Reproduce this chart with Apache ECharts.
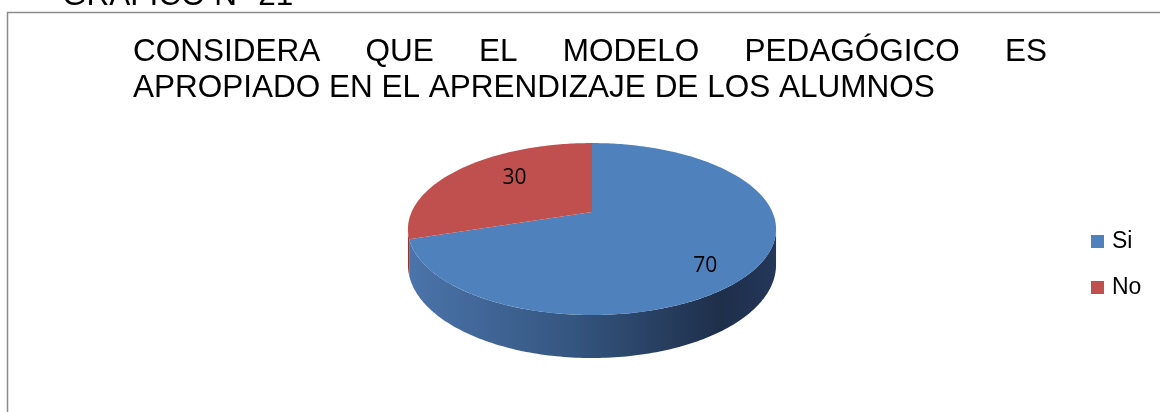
<!DOCTYPE html>
<html>
<head>
<meta charset="utf-8">
<script src="https://cdn.jsdelivr.net/npm/echarts@6/dist/echarts.min.js"></script>
<style>
    html, body { margin: 0; padding: 0; background: #fff; }
    #main { width: 1160px; height: 412px; }
</style>
</head>
<body>
<div id="main"></div>
<script>
/*--------------------------------------------------------------------------
 数据
--------------------------------------------------------------------------*/
var categories = ['Si', 'No'];
var values = [70, 30];
var sliceColors = ['#4f81bd', '#c0504d'];
var titleTop = 'GRÁFICO N° 21';
var titleLine1 = ['CONSIDERA', 'QUE', 'EL', 'MODELO', 'PEDAGÓGICO', 'ES'];
var titleLine2 = 'APROPIADO EN EL APRENDIZAJE DE LOS ALUMNOS';

/*--------------------------------------------------------------------------
 3D饼图的布局 (带透视的椭圆)
--------------------------------------------------------------------------*/
var cx = 592, cy = 212;          // 圆心投影
var R = 180.4, K = 82.6, persp = 0.198, depth = 34.5;
var total = values.reduce(function (a, b) { return a + b; }, 0);
// 标签位置 (相对椭圆半径)
var labelCenter = [592, 229], labelR = [184, 86];
var labelFactor = [[0.76, 0.74], [0.52, 1.0]];
var sideColors = [
    ['#4b74aa', '#34557f', '#1e2f4a', '#24375a'],
    ['#a0403d', '#8a3634', '#6e2a28', '#7a302e']
];

function pt(t, r, down) {   // t：从12点顺时针 (弧度)
    var X = r * Math.sin(t), Z = r * Math.cos(t);
    var w = 1 + persp * Z;
    return [cx + R * X / w, cy - K * Z / w + (down ? depth / w : 0)];
}
function arc(t0, t1, down) {
    var pts = [];
    var n = Math.max(2, Math.ceil(Math.abs(t1 - t0) / (Math.PI / 180)));
    for (var i = 0; i <= n; i++) {
        pts.push(pt(t0 + (t1 - t0) * i / n, 1, down));
    }
    return pts;
}

function makeRender(idx) {
    return function (params, api) {
        var before = 0;
        for (var k = 0; k < idx; k++) before += values[k];
        var v = api.value(0);
        var t0 = before / total * 2 * Math.PI;
        var t1 = (before + v) / total * 2 * Math.PI;
        var children = [];
        // 侧面 (只画看得到的前半部分)
        var edge = Math.acos(-persp);
        var s0 = Math.max(t0, edge), s1 = Math.min(t1, 2 * Math.PI - edge);
        if (s1 > s0) {
            var c = sideColors[idx];
            children.push({
                type: 'polygon',
                z2: 1,
                shape: { points: arc(s0, s1, false).concat(arc(s1, s0, true)) },
                style: {
                    fill: {
                        type: 'linear', x: 0, y: 0, x2: 1, y2: 0,
                        colorStops: [
                            { offset: 0, color: c[0] },
                            { offset: 0.45, color: c[1] },
                            { offset: 0.85, color: c[2] },
                            { offset: 1, color: c[3] }
                        ]
                    }
                }
            });
        }
        // 顶面
        children.push({
            type: 'polygon',
            z2: 2,
            shape: { points: [pt(0, 0, false)].concat(arc(t0, t1, false)) },
            style: { fill: sliceColors[idx] }
        });
        // 数值标签
        var mid = (t0 + t1) / 2;
        var f = labelFactor[idx];
        children.push({
            type: 'text',
            z2: 3,
            x: labelCenter[0] + f[0] * labelR[0] * Math.sin(mid),
            y: labelCenter[1] - f[1] * labelR[1] * Math.cos(mid),
            style: {
                text: String(v),
                fill: '#000',
                font: '21px "Open Sans"',
                align: 'center',
                verticalAlign: 'middle'
            }
        });
        return { type: 'group', children: children };
    };
}

/*--------------------------------------------------------------------------
 标题两端对齐
--------------------------------------------------------------------------*/
var titleFont = '31.5px "Liberation Sans"';
var ctx = document.createElement('canvas').getContext('2d');
ctx.font = titleFont;
var lineLeft = 133, lineRight = 1047;
var wordsWidth = titleLine1.reduce(function (s, w) { return s + ctx.measureText(w).width; }, 0);
var gap = (lineRight - lineLeft - wordsWidth) / (titleLine1.length - 1);
var graphics = [
    {
        type: 'rect',
        shape: { x: 7.5, y: 12.5, width: 1300, height: 600 },
        style: { fill: 'none', stroke: '#8c8c8c', lineWidth: 1.5 },
        silent: true
    },
    {
        type: 'text', x: 62, y: -4,
        style: { text: titleTop, font: titleFont, fill: '#000', verticalAlign: 'middle' }
    },
    {
        type: 'text', x: lineLeft, y: 88.5,
        style: { text: titleLine2, font: titleFont, fill: '#000', verticalAlign: 'middle' }
    }
];
var xPos = lineLeft;
titleLine1.forEach(function (w) {
    graphics.push({
        type: 'text', x: xPos, y: 52.5,
        style: { text: w, font: titleFont, fill: '#000', verticalAlign: 'middle' }
    });
    xPos += ctx.measureText(w).width + gap;
});

var myChart = echarts.init(document.getElementById('main'));
var option = {
    backgroundColor: '#fff',
    animation: false,
    legend: {
        orient: 'vertical',
        left: 1091,
        top: 229.5,
        padding: 0,
        icon: 'rect',
        itemWidth: 13,
        itemHeight: 13,
        itemGap: 22,
        data: categories,
        textStyle: {
            fontFamily: 'Liberation Sans',
            fontSize: 23,
            lineHeight: 24,
            color: '#000',
            padding: [0, 0, 0, 3]
        }
    },
    graphic: graphics,
    series: categories.map(function (name, i) {
        return {
            name: name,
            type: 'custom',
            coordinateSystem: 'none',
            itemStyle: { color: sliceColors[i] },
            renderItem: makeRender(i),
            data: [[values[i]]]
        };
    })
};
myChart.setOption(option);
</script>
</body>
</html>
